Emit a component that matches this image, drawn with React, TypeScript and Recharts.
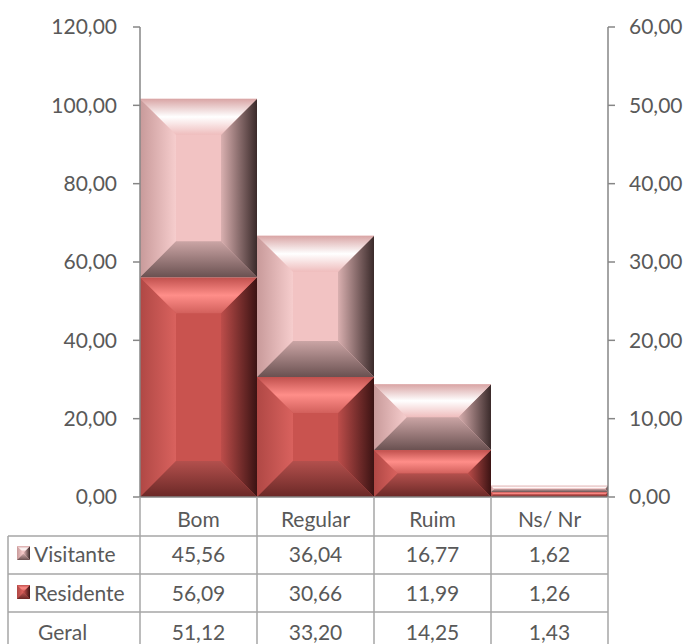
import React from 'react';
import { ComposedChart, Bar, Line, XAxis, YAxis } from 'recharts';

const categories = ['Bom', 'Regular', 'Ruim', 'Ns/ Nr'];
const visitante = [45.56, 36.04, 16.77, 1.62];
const residente = [56.09, 30.66, 11.99, 1.26];
const geral = [51.12, 33.2, 14.25, 1.43];
const leftTicks = [0, 20, 40, 60, 80, 100, 120];
const rightTicks = [0, 10, 20, 30, 40, 50, 60];
const rowLabels = ['Visitante', 'Residente', 'Geral'];
const rowSeries = [visitante, residente, geral];
const rowKinds = ['v', 'r', ''];

const data = categories.map((c, i) => ({
  name: c,
  visitante: visitante[i],
  residente: residente[i],
  geral: geral[i],
}));

const fmt = (v: number) => v.toFixed(2).replace('.', ',');

const TEXT = '#595959';
const AXIS = '#868686';
const GRID = '#a6a6a6';
const FONT = 'Lato, "Open Sans", sans-serif';
const FS = 21;
const BAND = 117;

const PAL: Record<string, any> = {
  v: {
    center: '#f2c3c3',
    top: ['#d9a5a5', '#ffffff', '#efbdbd'],
    left: ['#c89a9a', '#f6cdcd'],
    right: ['#dab0b0', '#3a2a2a'],
    bottom: ['#cba5a5', '#6a5151'],
  },
  r: {
    center: '#c9534f',
    top: ['#c0504d', '#ff8e89', '#d2605c'],
    left: ['#b04845', '#d9625e'],
    right: ['#bd4d4a', '#3b1313'],
    bottom: ['#b3504d', '#6a2826'],
  },
};

function Defs() {
  return (
    <defs>
      {Object.keys(PAL).map((k) => {
        const p = PAL[k];
        return (
          <React.Fragment key={k}>
            <linearGradient id={`${k}-top`} x1="0" y1="0" x2="0" y2="1">
              <stop offset="0" stopColor={p.top[0]} />
              <stop offset="0.5" stopColor={p.top[1]} />
              <stop offset="1" stopColor={p.top[2]} />
            </linearGradient>
            <linearGradient id={`${k}-left`} x1="0" y1="0" x2="1" y2="0">
              <stop offset="0" stopColor={p.left[0]} />
              <stop offset="1" stopColor={p.left[1]} />
            </linearGradient>
            <linearGradient id={`${k}-right`} x1="0" y1="0" x2="1" y2="0">
              <stop offset="0" stopColor={p.right[0]} />
              <stop offset="1" stopColor={p.right[1]} />
            </linearGradient>
            <linearGradient id={`${k}-bottom`} x1="0" y1="0" x2="0" y2="1">
              <stop offset="0" stopColor={p.bottom[0]} />
              <stop offset="1" stopColor={p.bottom[1]} />
            </linearGradient>
          </React.Fragment>
        );
      })}
    </defs>
  );
}

function Bevel(props: any) {
  const { x, y, width, height, kind, bevel = 36 } = props;
  if (!(width > 0) || !(height > 0)) return null;
  const b = Math.min(bevel, width / 2, height / 2);
  const x0 = x, x1 = x + width, y0 = y, y1 = y + height;
  const ix0 = x0 + b, ix1 = x1 - b, iy0 = y0 + b, iy1 = y1 - b;
  const p = PAL[kind];
  return (
    <g>
      <rect x={x0} y={y0} width={width} height={height} fill={p.center} />
      <polygon points={`${x0},${y0} ${ix0},${iy0} ${ix0},${iy1} ${x0},${y1}`} fill={`url(#${kind}-left)`} />
      <polygon points={`${x1},${y0} ${ix1},${iy0} ${ix1},${iy1} ${x1},${y1}`} fill={`url(#${kind}-right)`} />
      <polygon points={`${x0},${y0} ${x1},${y0} ${ix1},${iy0} ${ix0},${iy0}`} fill={`url(#${kind}-top)`} />
      <polygon points={`${x0},${y1} ${x1},${y1} ${ix1},${iy1} ${ix0},${iy1}`} fill={`url(#${kind}-bottom)`} />
    </g>
  );
}

function TableTick(props: any) {
  const { x, y, payload } = props;
  const i: number = payload.index ?? props.index ?? 0;
  const left = x - BAND / 2;
  const right = x + BAND / 2;
  const bottom = y + 160;
  const lineY = [y + 39, y + 77, y + 115];
  const textY = [y + 56, y + 95, y + 134];
  const txt = { fill: TEXT, fontSize: FS, fontFamily: FONT } as any;
  const legLeft = 8;
  return (
    <g>
      <line x1={left} y1={y} x2={left} y2={bottom} stroke={GRID} strokeWidth={1.5} />
      {i === categories.length - 1 && (
        <line x1={right} y1={y} x2={right} y2={bottom} stroke={GRID} strokeWidth={1.5} />
      )}
      {lineY.map((ly, k) => (
        <line key={k} x1={left} y1={ly} x2={right} y2={ly} stroke={GRID} strokeWidth={1.5} />
      ))}
      <text x={x} y={y + 21} textAnchor="middle" dominantBaseline="central" {...txt}>
        {payload.value}
      </text>
      {rowSeries.map((s, k) => (
        <text key={k} x={x} y={textY[k]} textAnchor="middle" dominantBaseline="central" {...txt}>
          {fmt(s[i])}
        </text>
      ))}
      {i === 0 && (
        <g>
          <line x1={legLeft} y1={lineY[0]} x2={legLeft} y2={bottom} stroke={GRID} strokeWidth={1.5} />
          {lineY.map((ly, k) => (
            <line key={k} x1={legLeft} y1={ly} x2={left} y2={ly} stroke={GRID} strokeWidth={1.5} />
          ))}
          {rowLabels.map((lab, k) => (
            <g key={k}>
              {rowKinds[k] && (
                <Bevel x={17} y={textY[k] - 7} width={13} height={14} kind={rowKinds[k]} bevel={6} />
              )}
              <text x={k === 2 ? 38 : 34} y={textY[k]} textAnchor="start" dominantBaseline="central" {...txt}>
                {lab}
              </text>
            </g>
          ))}
        </g>
      )}
    </g>
  );
}

export default function App() {
  return (
    <div style={{ position: 'absolute', left: 0, top: 0, width: 685, height: 644, background: '#fff', fontFamily: FONT }}>
      <ComposedChart
        width={685}
        height={644}
        data={data}
        margin={{ top: 27, right: 0, bottom: 0, left: 0 }}
        barCategoryGap={0}
        barGap={0}
      >
        <Defs />
        <XAxis
          dataKey="name"
          height={147}
          interval={0}
          tickSize={0}
          tickMargin={0}
          tickLine={false}
          axisLine={{ stroke: AXIS, strokeWidth: 1.5 }}
          tick={<TableTick />}
        />
        <YAxis
          yAxisId="left"
          width={140}
          domain={[0, 120]}
          ticks={leftTicks}
          tickFormatter={fmt}
          tickSize={7}
          tickMargin={16}
          axisLine={{ stroke: AXIS, strokeWidth: 1.5 }}
          tickLine={{ stroke: AXIS, strokeWidth: 1.5 }}
          tick={{ fill: TEXT, fontSize: FS, fontFamily: FONT }}
        />
        <YAxis
          yAxisId="right"
          orientation="right"
          width={77}
          domain={[0, 60]}
          ticks={rightTicks}
          tickFormatter={fmt}
          tickSize={7}
          tickMargin={14}
          axisLine={{ stroke: AXIS, strokeWidth: 1.5 }}
          tickLine={{ stroke: AXIS, strokeWidth: 1.5 }}
          tick={{ fill: TEXT, fontSize: FS, fontFamily: FONT }}
        />
        <Bar
          dataKey="residente"
          stackId="a"
          yAxisId="left"
          isAnimationActive={false}
          shape={(p: any) => <Bevel {...p} kind="r" />}
        />
        <Bar
          dataKey="visitante"
          stackId="a"
          yAxisId="left"
          isAnimationActive={false}
          shape={(p: any) => <Bevel {...p} kind="v" />}
        />
        <Line
          dataKey="geral"
          yAxisId="right"
          stroke="none"
          dot={false}
          activeDot={false}
          isAnimationActive={false}
        />
      </ComposedChart>
    </div>
  );
}
